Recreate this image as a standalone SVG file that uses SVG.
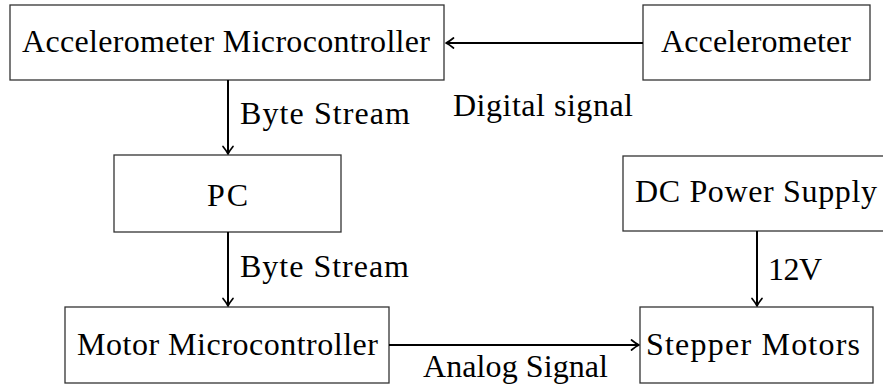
<svg xmlns="http://www.w3.org/2000/svg" width="883" height="387" viewBox="0 0 883 387">
  <style>
    .box { fill: #ffffff; stroke: #333333; stroke-width: 1.3; }
    .lbl { font-family: 'Liberation Serif', 'Times New Roman', serif; font-size: 32px; fill: #000000; }
    .mid { text-anchor: middle; }
    .conn { stroke: #000000; stroke-width: 2; fill: none; marker-end: url(#arr); }
  </style>
  <defs>
    <marker id="arr" markerUnits="userSpaceOnUse" markerWidth="16" markerHeight="16" viewBox="-9 -8 11 16" refX="0" refY="0" orient="auto">
      <path d="M-7.5,-5 Q-3,-1.3 0,0 Q-3,1.3 -7.5,5" stroke="#000000" stroke-width="1.7" fill="none" stroke-linecap="round" stroke-linejoin="round"/>
    </marker>
  </defs>
  <rect width="883" height="387" fill="#ffffff"/>

  <g id="accel-mcu">
    <rect class="box" x="10" y="5" width="434" height="75"/>
    <text class="lbl mid" x="226" y="52" textLength="408">Accelerometer Microcontroller</text>
  </g>
  <g id="accelerometer">
    <rect class="box" x="643" y="5" width="227" height="75"/>
    <text class="lbl mid" x="756" y="52" textLength="190">Accelerometer</text>
  </g>
  <g id="pc">
    <rect class="box" x="114" y="155" width="227" height="77"/>
    <text class="lbl mid" x="227.5" y="206" textLength="41">PC</text>
  </g>
  <g id="dc-power">
    <rect class="box" x="623" y="156" width="280" height="75"/>
    <text class="lbl" x="635" y="202" textLength="242">DC Power Supply</text>
  </g>
  <g id="motor-mcu">
    <rect class="box" x="65" y="307" width="324" height="76"/>
    <text class="lbl mid" x="227.5" y="355" textLength="301">Motor Microcontroller</text>
  </g>
  <g id="stepper">
    <rect class="box" x="640" y="307" width="233" height="76"/>
    <text class="lbl mid" x="753" y="355" textLength="214">Stepper Motors</text>
  </g>

  <g id="connectors">
    <line class="conn" x1="643" y1="43" x2="446" y2="43"/>
    <line class="conn" x1="228" y1="80" x2="228" y2="154"/>
    <line class="conn" x1="228" y1="232" x2="228" y2="306"/>
    <line class="conn" x1="389" y1="345" x2="639" y2="345"/>
    <line class="conn" x1="757" y1="231" x2="757" y2="306"/>
    <text class="lbl" x="453" y="116" textLength="180">Digital signal</text>
    <text class="lbl" x="240" y="124" textLength="170">Byte Stream</text>
    <text class="lbl" x="240" y="277" textLength="169">Byte Stream</text>
    <text class="lbl" x="423" y="377" textLength="185">Analog Signal</text>
    <text class="lbl" x="768" y="280" textLength="54">12V</text>
  </g>
</svg>
